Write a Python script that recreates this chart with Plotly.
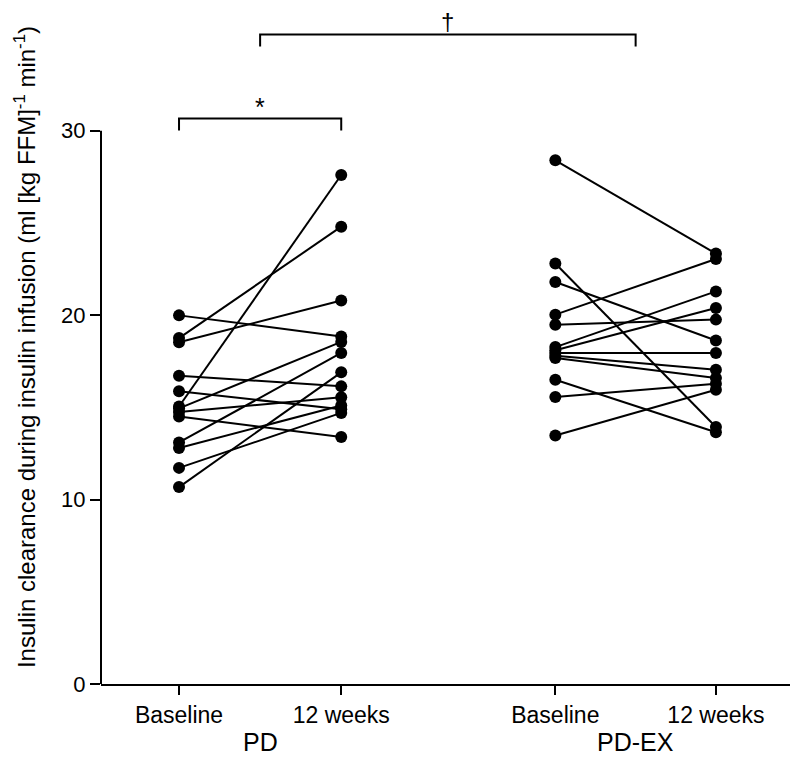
import plotly.graph_objects as go

# Categories and tick labels
time_labels = ["Baseline", "12 weeks", "Baseline", "12 weeks"]
group_labels = ["PD", "PD-EX"]
x_pos = [0, 1, 2.32, 3.31]  # layout positions of the four time points

# Individual data (ml [kg FFM]^-1 min^-1)
pd_baseline = [19.99, 18.76, 18.53, 16.72, 15.87, 15.05, 14.95, 14.75, 14.5, 13.1, 12.8, 11.72, 10.68]
pd_12weeks = [18.85, 24.8, 20.8, 16.14, 14.9, 27.6, 18.55, 15.55, 13.4, 17.95, 15.1, 14.7, 16.9]

pdex_baseline = [28.4, 22.8, 21.8, 20.03, 19.48, 18.27, 18.1, 17.95, 17.8, 17.68, 16.5, 15.56, 13.48]
pdex_12weeks = [23.34, 13.94, 18.63, 23.05, 19.76, 21.29, 20.39, 17.95, 17.04, 16.59, 13.65, 16.28, 15.96]

y_ticks = [0, 10, 20, 30]

FONT = "Liberation Sans, Arial, sans-serif"

fig = go.Figure()

def add_pairs(x0, x1, before, after):
    for b, a in zip(before, after):
        fig.add_trace(go.Scatter(
            x=[x0, x1], y=[b, a], mode="lines+markers",
            line=dict(color="black", width=2),
            marker=dict(color="black", size=12),
            showlegend=False, hoverinfo="y", cliponaxis=False))

add_pairs(x_pos[0], x_pos[1], pd_baseline, pd_12weeks)
add_pairs(x_pos[2], x_pos[3], pdex_baseline, pdex_12weeks)

# y axis line from 0 to 30
fig.add_shape(type="line", xref="paper", yref="y", x0=0, x1=0, y0=0, y1=30,
              line=dict(color="black", width=2))

# significance brackets
def bracket(xa, xb, ytop, ybot):
    fig.add_shape(type="path", xref="x", yref="y",
                  path=f"M {xa},{ybot} L {xa},{ytop} L {xb},{ytop} L {xb},{ybot}",
                  line=dict(color="black", width=2))

bracket(x_pos[0], x_pos[1], 30.67, 30.02)
mid_pd = (x_pos[0] + x_pos[1]) / 2
mid_ex = (x_pos[2] + x_pos[3]) / 2
bracket(mid_pd, mid_ex, 35.22, 34.57)

fig.add_annotation(x=mid_pd, y=31.3, xref="x", yref="y", text="*", showarrow=False,
                   font=dict(family=FONT, size=25, color="black"), yanchor="middle")
fig.add_annotation(x=(mid_pd + mid_ex) / 2, y=35.9, xref="x", yref="y", text="†", showarrow=False,
                   font=dict(family=FONT, size=24, color="black"), yanchor="middle")

# group labels
for xg, lab in zip([mid_pd, mid_ex], group_labels):
    fig.add_annotation(x=xg, y=0, xref="x", yref="paper", yshift=-58, text=lab,
                       showarrow=False, yanchor="middle",
                       font=dict(family=FONT, size=25, color="black"))

fig.update_layout(
    width=790, height=756,
    margin=dict(l=93, r=0, t=2, b=80, autoexpand=False),
    paper_bgcolor="white", plot_bgcolor="white",
    font=dict(family=FONT, size=20, color="black"),
    showlegend=False,
    xaxis=dict(range=[-0.481, 3.816], tickvals=x_pos, ticktext=time_labels,
               showline=True, linecolor="black", linewidth=2,
               ticks="outside", ticklen=9, tickwidth=2, tickcolor="black",
               showgrid=False, zeroline=False, automargin=False,
               tickfont=dict(family=FONT, size=23, color="black")),
    yaxis=dict(range=[0, 36.55], tickvals=y_ticks,
               showline=False, ticks="outside", ticklen=10, tickwidth=2, tickcolor="black",
               showgrid=False, zeroline=False, automargin=False,
               tickfont=dict(family=FONT, size=22, color="black"),
               title=dict(text="Insulin clearance during insulin infusion (ml [kg FFM]<sup>-1</sup> min<sup>-1</sup>)",
                          font=dict(family=FONT, size=24, color="black"), standoff=18)),
)

fig.write_html("out.html")
